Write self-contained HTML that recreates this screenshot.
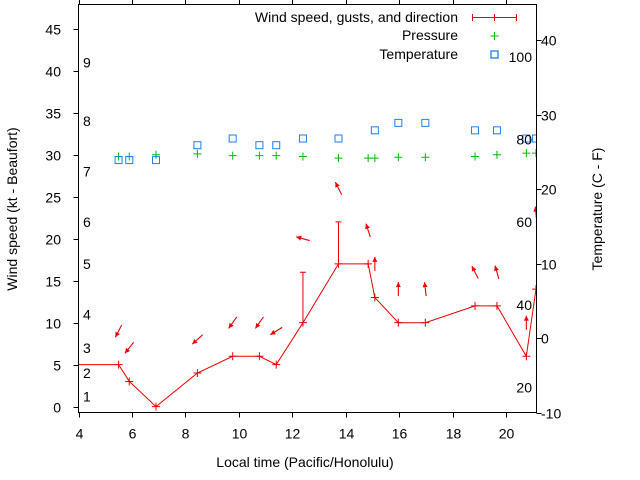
<!DOCTYPE html>
<html><head><meta charset="utf-8"><style>
html,body{margin:0;padding:0;background:#fff;}
svg{display:block;font-family:"Liberation Sans",sans-serif;}
</style></head><body>
<svg id="chart" width="640" height="480" viewBox="0 0 640 480" xmlns="http://www.w3.org/2000/svg">
<rect x="0" y="0" width="640" height="480" fill="#fff"/>
<g id="marks"></g>
<rect x="78.5" y="4.5" width="458" height="408" fill="none" stroke="#000" stroke-width="1"/>
<g id="axes"></g>
<text x="305" y="467" font-size="14" text-anchor="middle">Local time (Pacific/Honolulu)</text>
<text transform="translate(17,209) rotate(-90)" font-size="14" text-anchor="middle">Wind speed (kt - Beaufort)</text>
<text transform="translate(602,209) rotate(-90)" font-size="14" text-anchor="middle">Temperature (C - F)</text>
<g>
<text x="458" y="22" font-size="14" text-anchor="end">Wind speed, gusts, and direction</text>
<g stroke="#e00" stroke-width="1"><line x1="472" y1="17.5" x2="517" y2="17.5"/><line x1="472.5" y1="14" x2="472.5" y2="21"/><line x1="516.5" y1="14" x2="516.5" y2="21"/><line x1="494.5" y1="14" x2="494.5" y2="21"/></g>
<text x="458" y="40" font-size="14" text-anchor="end">Pressure</text>
<g stroke="#0b0"><line x1="490.5" y1="36" x2="498.5" y2="36"/><line x1="494.5" y1="32" x2="494.5" y2="40"/></g>
<text x="458" y="59" font-size="14" text-anchor="end">Temperature</text>
<rect x="491" y="51" width="7" height="7" fill="none" stroke="#1a80f0" stroke-width="1.3"/>
</g>
</svg>
<script>
const times=[3.5,5.5,5.9,6.9,8.45,9.77,10.77,11.4,12.4,13.73,14.84,15.09,15.97,16.98,18.84,19.66,20.76,21.12];
const windSpeed=[5,5,3,0,4,6,6,5,10,17,17,13,10,10,12,12,6,14];
const windGust=[null,null,null,null,null,null,null,null,16,22,null,null,null,null,null,null,null,null];
const pressureTimes=[5.5,5.9,6.9,8.45,9.77,10.77,11.4,12.4,13.73,14.84,15.09,15.97,16.98,18.84,19.66,20.76,21.12];
const pressure=[29.8,29.8,30.0,30.1,29.9,29.9,29.9,29.8,29.6,29.6,29.6,29.7,29.7,29.8,30.0,30.2,30.2];
const tempTimes=[5.5,5.9,6.9,8.45,9.77,10.77,11.4,12.4,13.73,15.09,15.97,16.98,18.84,19.66,20.76,21.12];
const tempC=[23.9,23.9,23.9,25.9,26.8,25.9,25.9,26.8,26.8,27.9,28.9,28.9,27.9,27.9,26.8,26.8];
const arrowTimes=[5.5,5.9,8.45,9.77,10.77,11.4,12.4,13.73,14.84,15.09,15.97,16.98,18.84,19.66,20.76,21.12];
const arrowLevel=[9,7,8,10,10,9,20,26,21,17,14,14,16,16,10,23];
const arrowHeading=[207,218,228,215,215,238,285,333,342,0,0,353,333,344,0,355];
const xTicks=[4,6,8,10,12,14,16,18,20];
const yTicks=[0,5,10,15,20,25,30,35,40,45];
const y2Ticks=[-10,0,10,20,30,40];
const beaufortLabels=["1","2","3","4","5","6","7","8","9"];
const beaufortKt=[1.2,4,7,11,17,22,28,34,41];
const fahrenheitLabels=[20,40,60,80,100];

const L=78.5,R=536.5,T=4.5,B=412.5;
const xMin=4,xMax=21.14,yMin=-0.7,yMax=47.9,y2Min=-10,y2Max=44.8;
const X=t=>L+(t-xMin)/(xMax-xMin)*(R-L);
const Y=v=>B-(v-yMin)/(yMax-yMin)*(B-T);
const Y2=c=>B-(c-y2Min)/(y2Max-y2Min)*(B-T);
const NS="http://www.w3.org/2000/svg";
function mk(tag,attrs,parent){const e=document.createElementNS(NS,tag);for(const k in attrs)e.setAttribute(k,attrs[k]);parent.appendChild(e);return e;}
const axes=document.getElementById('axes');
const marks=document.getElementById('marks');
const defs=mk('defs',{},marks);
const cp=mk('clipPath',{id:'clip'},defs);
mk('rect',{x:L,y:T,width:R-L,height:B-T},cp);
const g=mk('g',{'clip-path':'url(#clip)'},marks);



xTicks.forEach(t=>{const x=Math.round(X(t))+0.5;
 const a=mk('line',{x1:x,y1:B,x2:x,y2:B+5,stroke:'#000'},axes);
 
 
 const b=mk('line',{x1:x,y1:T,x2:x,y2:T-5,stroke:'#000'},axes);
 
 
 const tx=mk('text',{x:x,y:B+26,'font-size':14,'text-anchor':'middle'},axes);tx.textContent=t;
 
 
});
yTicks.forEach(v=>{const y=Math.round(Y(v))+0.5;
 const a=mk('line',{x1:L,y1:y,x2:L-5,y2:y,stroke:'#000'},axes);
 
 
 const tx=mk('text',{x:61,y:y+5,'font-size':14,'text-anchor':'end'},axes);tx.textContent=v;
 
 
});
y2Ticks.forEach(c=>{const y=Math.round(Y2(c))+0.5;
 const a=mk('line',{x1:R,y1:y,x2:R+5,y2:y,stroke:'#000'},axes);
 
 
 const tx=mk('text',{x:541,y:y+5,'font-size':14,'text-anchor':'start'},axes);tx.textContent=c;
 
 
});
beaufortLabels.forEach((s,i)=>{
 const tx=mk('text',{x:83,y:Y(beaufortKt[i])+5,'font-size':14},axes);tx.textContent=s;
 
 
});
fahrenheitLabels.forEach(f=>{
 const c=(f-32)*5/9;
 const tx=mk('text',{x:532,y:Y2(c)+5,'font-size':14,'text-anchor':'end'},axes);tx.textContent=f;
 
 
});

const pts=times.map((t,i)=>X(t).toFixed(1)+','+Y(windSpeed[i]).toFixed(1)).join(' ');
const pl=mk('polyline',{points:pts,fill:'none',stroke:'#e00','stroke-width':1},g);


times.forEach((t,i)=>{const x=X(t),y=Y(windSpeed[i]);
 const p=mk('path',{d:`M${x-4},${y}H${x+4}M${x},${y-4}V${y+4}`,stroke:'#e00'},g);
 
 
 if(windGust[i]!=null){const yg=Y(windGust[i]);
  const gb=mk('path',{d:`M${x},${y}V${yg}M${x-3},${yg}H${x+3}`,stroke:'#e00'},g);
  
  }
});
pressureTimes.forEach((t,i)=>{const x=X(t),y=Y(pressure[i]);
 const p=mk('path',{d:`M${x-4},${y}H${x+4}M${x},${y-4}V${y+4}`,stroke:'#0b0'},g);
 
 
});
tempTimes.forEach((t,i)=>{const x=X(t),y=Y2(tempC[i]);
 const r=mk('rect',{x:x-3.5,y:y-3.5,width:7,height:7,fill:'none',stroke:'#1a80f0'},g);
 
 
});
arrowTimes.forEach((t,i)=>{const cx=X(t),cy=Y(arrowLevel[i]);
 const h=arrowHeading[i]*Math.PI/180, dx=Math.sin(h)*7, dy=-Math.cos(h)*7;
 const hx=cx+dx,hy=cy+dy,tx=cx-dx,ty=cy-dy;
 const ux=dx/7,uy=dy/7,px=-uy,py=ux;
 const a=mk('g',{},g);
 
 
 mk('line',{x1:tx,y1:ty,x2:hx,y2:hy,stroke:'#e00','stroke-width':1.1},a);
 mk('polygon',{points:`${hx},${hy} ${hx-ux*5+px*2.5},${hy-uy*5+py*2.5} ${hx-ux*5-px*2.5},${hy-uy*5-py*2.5}`,fill:'#e00'},a);
});
</script>
</body></html>
